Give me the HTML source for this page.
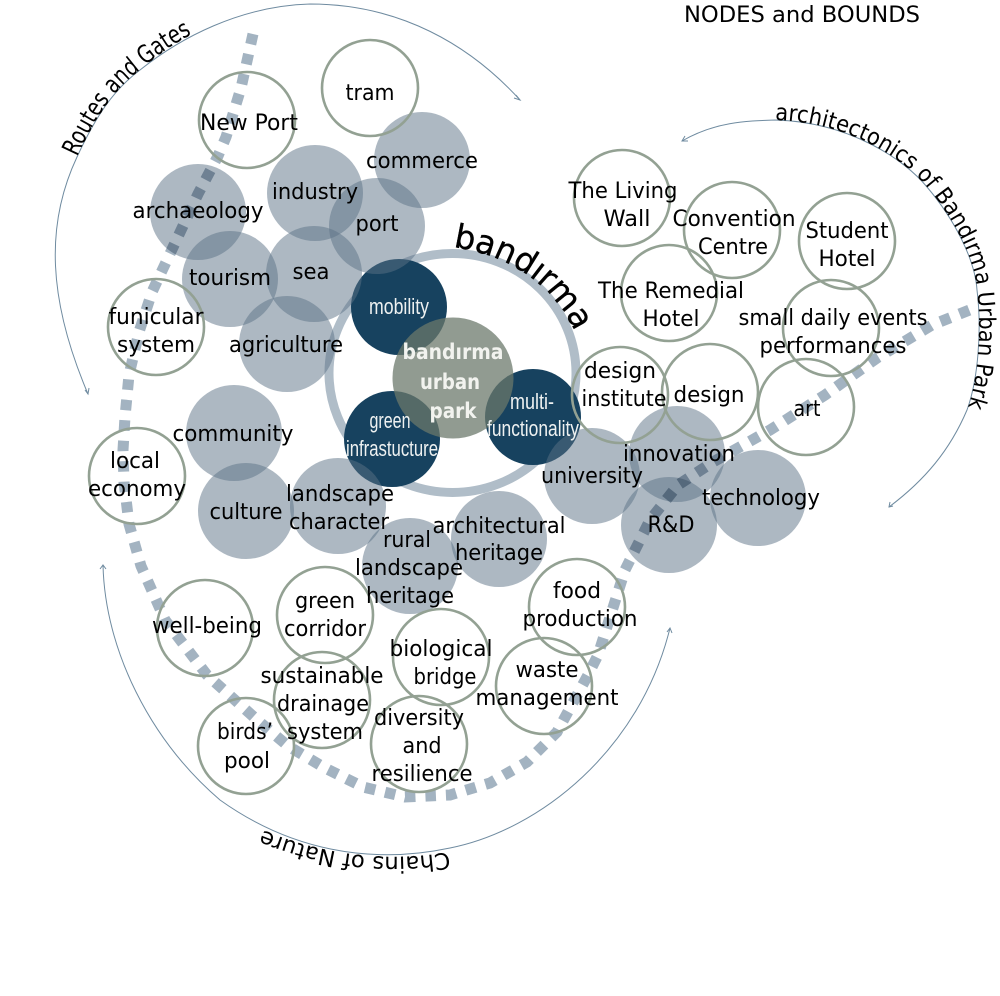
<!DOCTYPE html>
<html><head><meta charset="utf-8"><style>
html,body{margin:0;padding:0;background:#fff;width:1000px;height:996px;overflow:hidden}
svg{display:block}
text{font-family:"DejaVu Sans",sans-serif;font-size:22.5px;fill:#000;text-anchor:middle}
.w{font-family:"Liberation Sans",sans-serif;fill:#eef1f1;font-size:22px}
.b{font-weight:bold;fill:#f2f3ef;font-size:21px}
.o circle{fill:none;stroke:#93a193;stroke-width:2.6}
.f circle{fill:#5b7186;fill-opacity:.5}
.d circle{fill:#17425f}
.a{fill:none;stroke:#6f8ba0;stroke-width:1}
.c{text-anchor:start}
</style></head><body>
<svg width="1000" height="996" viewBox="0 0 1000 996" xmlns="http://www.w3.org/2000/svg">
<defs>
<path id="p1" d="M77,157 C95,118 113,90 140,70 C157,55 175,43 196,32"/>
<path id="p2" d="M775,120 C850,122 905,160 927,187 C955,220 975,260 977,290 C982,330 978,380 967,410"/>
<path id="p3" d="M453,247 C510,255 555,285 578,338"/>
<path id="p4" d="M449,852 Q355,868 263,830"/>
</defs>
<path class="a" d="M88,394 C48,300 45,225 77,157 C95,118 113,90 140,70 C180,38 240,6 310,4 C400,4 470,45 520,100"/>
<path class="a" d="M682,141 C715,122 745,121 775,120 C850,122 905,160 927,187 C955,220 975,260 977,290 C982,330 978,380 967,410 C950,450 925,480 889,507"/>
<path class="a" d="M103,565 C105,650 150,740 220,800 C290,850 370,865 450,848 C540,830 640,750 670,628"/>
<path class="a" d="M516,95 L520,100 L514,98M85,390 L88,394 L89,388M685,136 L682,141 L688,141M893,506 L889,507 L890,502M100,569 L103,565 L106,569M667,632 L670,628 L672,633"/>
<ellipse cx="452.5" cy="373" rx="123.5" ry="119.5" fill="none" stroke="#b0bdc8" stroke-width="9"/>
<g class="d"><circle cx="399" cy="307" r="48"/><circle cx="392" cy="439" r="48"/><circle cx="533" cy="417" r="48"/></g>
<g class="f">
<circle cx="198" cy="212" r="48"/><circle cx="315" cy="193" r="48"/><circle cx="422" cy="160" r="48"/><circle cx="377" cy="226" r="48"/>
<circle cx="230" cy="279" r="48"/><circle cx="314" cy="274" r="48"/><circle cx="287" cy="344" r="48"/><circle cx="234" cy="433" r="48"/>
<circle cx="246" cy="511" r="48"/><circle cx="338" cy="506" r="48"/><circle cx="410" cy="566" r="48"/><circle cx="499" cy="539" r="48"/>
<circle cx="592" cy="476" r="48"/><circle cx="677" cy="454" r="48"/><circle cx="669" cy="525" r="48"/><circle cx="758" cy="498" r="48"/>
</g>
<circle cx="453" cy="378" r="60.5" fill="#6b786b" fill-opacity=".74"/>
<polyline points="253,34 241,88 226,137 218,156 198,194 175,243 152,292 139,332 129,375 125,417 123,450 124,482 129,524 141,566 165,620 207,675 255,718 288,746 325,768 363,787 405,797 450,795 490,783 527,762 557,732 588,675 598,655 625,570 650,520 678,485 713,462 770,430 825,395 877,358 932,325 972,309" fill="none" stroke="#a3b3c1" stroke-width="11" stroke-dasharray="10.5 10" style="mix-blend-mode:multiply"/>
<g class="o">
<circle cx="370" cy="88" r="48"/><circle cx="247" cy="120" r="48"/><circle cx="156" cy="327" r="48"/><circle cx="137" cy="476" r="48"/>
<circle cx="622" cy="198" r="48"/><circle cx="732" cy="230" r="48"/><circle cx="847" cy="241" r="48"/><circle cx="669" cy="293" r="48"/>
<circle cx="831" cy="328" r="48"/><circle cx="620" cy="395" r="48"/><circle cx="710" cy="392" r="48"/><circle cx="806" cy="407" r="48"/>
<circle cx="577" cy="607" r="48"/><circle cx="325" cy="615" r="48"/><circle cx="205" cy="628" r="48"/><circle cx="441" cy="657" r="48"/>
<circle cx="544" cy="686" r="48"/><circle cx="322" cy="700" r="48"/><circle cx="246" cy="746" r="48"/><circle cx="419" cy="744" r="48"/>
</g>
<text x="802" y="22" textLength="236" lengthAdjust="spacingAndGlyphs">NODES and BOUNDS</text>
<text class="c" style="font-size:25px"><textPath href="#p1" textLength="172" lengthAdjust="spacingAndGlyphs">Routes and Gates</textPath></text>
<text class="c" style="font-size:23px"><textPath href="#p2" textLength="405" lengthAdjust="spacingAndGlyphs">architectonics of Bandırma Urban Park</textPath></text>
<text class="c" style="font-size:33px;stroke:#000;stroke-width:.4"><textPath href="#p3" textLength="155" lengthAdjust="spacingAndGlyphs">bandırma</textPath></text>
<text class="c" style="font-size:22.5px"><textPath href="#p4" textLength="190" lengthAdjust="spacingAndGlyphs">Chains of Nature</textPath></text>
<text x="370" y="100" textLength="49" lengthAdjust="spacingAndGlyphs">tram</text>
<text x="249" y="130" textLength="98" lengthAdjust="spacingAndGlyphs">New Port</text>
<text x="422" y="168" textLength="112" lengthAdjust="spacingAndGlyphs">commerce</text>
<text x="315" y="199" textLength="86" lengthAdjust="spacingAndGlyphs">industry</text>
<text x="377" y="231" textLength="43" lengthAdjust="spacingAndGlyphs">port</text>
<text x="198" y="218" textLength="131" lengthAdjust="spacingAndGlyphs">archaeology</text>
<text x="311" y="279" textLength="37" lengthAdjust="spacingAndGlyphs">sea</text>
<text x="230" y="285" textLength="82" lengthAdjust="spacingAndGlyphs">tourism</text>
<text x="156" y="324" textLength="95" lengthAdjust="spacingAndGlyphs">funicular</text>
<text x="156" y="352" textLength="78" lengthAdjust="spacingAndGlyphs">system</text>
<text x="286" y="352" textLength="114" lengthAdjust="spacingAndGlyphs">agriculture</text>
<text x="233" y="441" textLength="121" lengthAdjust="spacingAndGlyphs">community</text>
<text x="135" y="468" textLength="50" lengthAdjust="spacingAndGlyphs">local</text>
<text x="137" y="496" textLength="98" lengthAdjust="spacingAndGlyphs">economy</text>
<text x="246" y="519" textLength="73" lengthAdjust="spacingAndGlyphs">culture</text>
<text x="340" y="501" textLength="108" lengthAdjust="spacingAndGlyphs">landscape</text>
<text x="339" y="529" textLength="100" lengthAdjust="spacingAndGlyphs">character</text>
<text x="407" y="547" textLength="48" lengthAdjust="spacingAndGlyphs">rural</text>
<text x="409" y="575" textLength="108" lengthAdjust="spacingAndGlyphs">landscape</text>
<text x="410" y="603" textLength="88" lengthAdjust="spacingAndGlyphs">heritage</text>
<text x="499" y="533" textLength="133" lengthAdjust="spacingAndGlyphs">architectural</text>
<text x="499" y="560" textLength="88" lengthAdjust="spacingAndGlyphs">heritage</text>
<text x="592" y="483" textLength="102" lengthAdjust="spacingAndGlyphs">university</text>
<text x="679" y="461" textLength="112" lengthAdjust="spacingAndGlyphs">innovation</text>
<text x="671" y="532" textLength="47" lengthAdjust="spacingAndGlyphs">R&amp;D</text>
<text x="761" y="505" textLength="118" lengthAdjust="spacingAndGlyphs">technology</text>
<text x="623" y="198" textLength="109" lengthAdjust="spacingAndGlyphs">The Living</text>
<text x="627" y="226" textLength="47" lengthAdjust="spacingAndGlyphs">Wall</text>
<text x="734" y="226" textLength="123" lengthAdjust="spacingAndGlyphs">Convention</text>
<text x="733" y="254" textLength="70" lengthAdjust="spacingAndGlyphs">Centre</text>
<text x="847" y="238" textLength="83" lengthAdjust="spacingAndGlyphs">Student</text>
<text x="847" y="266" textLength="57" lengthAdjust="spacingAndGlyphs">Hotel</text>
<text x="671" y="298" textLength="146" lengthAdjust="spacingAndGlyphs">The Remedial</text>
<text x="671" y="326" textLength="57" lengthAdjust="spacingAndGlyphs">Hotel</text>
<text x="833" y="325" textLength="189" lengthAdjust="spacingAndGlyphs">small daily events</text>
<text x="833" y="353" textLength="147" lengthAdjust="spacingAndGlyphs">performances</text>
<text x="620" y="378" textLength="72" lengthAdjust="spacingAndGlyphs">design</text>
<text x="624" y="406" textLength="85" lengthAdjust="spacingAndGlyphs">institute</text>
<text x="709" y="402" textLength="71" lengthAdjust="spacingAndGlyphs">design</text>
<text x="807" y="416" textLength="27" lengthAdjust="spacingAndGlyphs">art</text>
<text x="577" y="598" textLength="48" lengthAdjust="spacingAndGlyphs">food</text>
<text x="580" y="626" textLength="115" lengthAdjust="spacingAndGlyphs">production</text>
<text x="325" y="608" textLength="60" lengthAdjust="spacingAndGlyphs">green</text>
<text x="325" y="636" textLength="82" lengthAdjust="spacingAndGlyphs">corridor</text>
<text x="207" y="633" textLength="110" lengthAdjust="spacingAndGlyphs">well-being</text>
<text x="441" y="656" textLength="103" lengthAdjust="spacingAndGlyphs">biological</text>
<text x="445" y="684" textLength="63" lengthAdjust="spacingAndGlyphs">bridge</text>
<text x="547" y="677" textLength="63" lengthAdjust="spacingAndGlyphs">waste</text>
<text x="547" y="705" textLength="143" lengthAdjust="spacingAndGlyphs">management</text>
<text x="322" y="683" textLength="123" lengthAdjust="spacingAndGlyphs">sustainable</text>
<text x="323" y="711" textLength="92" lengthAdjust="spacingAndGlyphs">drainage</text>
<text x="325" y="739" textLength="76" lengthAdjust="spacingAndGlyphs">system</text>
<text x="245" y="739" textLength="56" lengthAdjust="spacingAndGlyphs">birds’</text>
<text x="247" y="768" textLength="46" lengthAdjust="spacingAndGlyphs">pool</text>
<text x="419" y="725" textLength="90" lengthAdjust="spacingAndGlyphs">diversity</text>
<text x="422" y="753" textLength="39" lengthAdjust="spacingAndGlyphs">and</text>
<text x="422" y="781" textLength="101" lengthAdjust="spacingAndGlyphs">resilience</text>
<text class="w" x="399" y="314" textLength="60" lengthAdjust="spacingAndGlyphs">mobility</text>
<text class="w" x="390" y="428" textLength="41" lengthAdjust="spacingAndGlyphs">green</text>
<text class="w" x="392" y="456" textLength="92" lengthAdjust="spacingAndGlyphs">infrastucture</text>
<text class="w" x="532" y="409" textLength="44" lengthAdjust="spacingAndGlyphs">multi-</text>
<text class="w" x="533" y="436" textLength="92" lengthAdjust="spacingAndGlyphs">functionality</text>
<text class="b" x="453" y="359" textLength="101" lengthAdjust="spacingAndGlyphs">bandırma</text>
<text class="b" x="450" y="389" textLength="60" lengthAdjust="spacingAndGlyphs">urban</text>
<text class="b" x="453" y="418" textLength="47" lengthAdjust="spacingAndGlyphs">park</text>
</svg>
</body></html>
